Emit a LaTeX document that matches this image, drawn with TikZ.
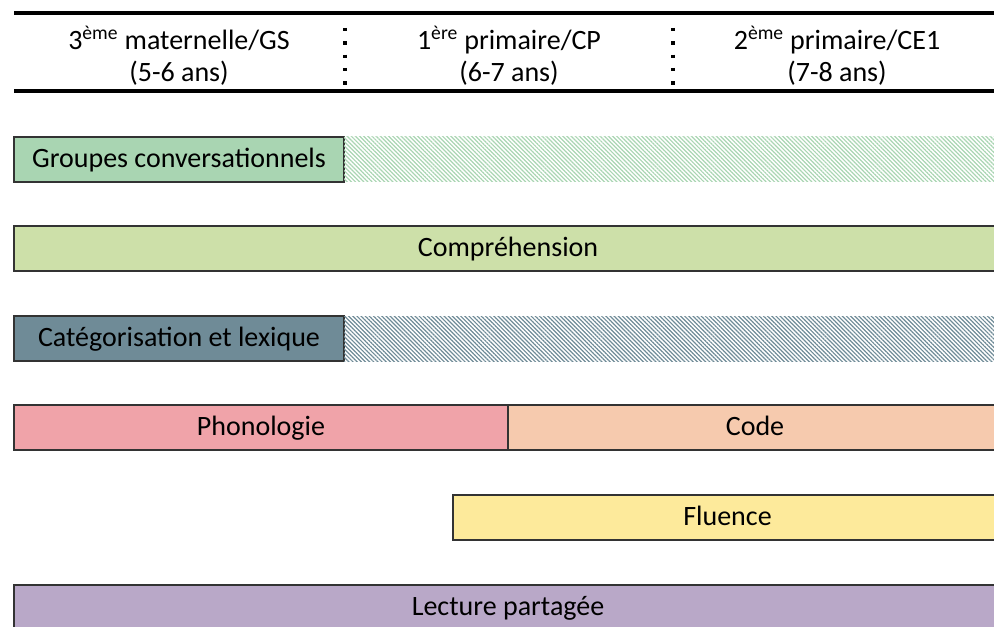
\documentclass[tikz,border=0pt]{standalone}
\usepackage{fontspec}
\setmainfont{Carlito}
\usetikzlibrary{positioning,patterns.meta}

\definecolor{grpgreen}{HTML}{A9D5B2}
\definecolor{compgreen}{HTML}{CDE0A9}
\definecolor{catblue}{HTML}{6F8B97}
\definecolor{phonored}{HTML}{F0A3A9}
\definecolor{codeorange}{HTML}{F6CAAE}
\definecolor{fluyellow}{HTML}{FDEA9B}
\definecolor{lectpurple}{HTML}{B9A8C8}

\begin{document}
\begin{tikzpicture}[x=0.75pt,y=-0.75pt,
    bar/.style={draw=black!80,line width=1.1pt,minimum height=33.75pt,inner sep=0pt,outer sep=0pt,
                text height=16pt,text depth=4pt,font=\fontsize{21}{25}\selectfont},
    hatchbar/.style={bar,draw=none,pattern={Lines[angle=-45,distance=2.2pt,line width=0.9pt]}},
    head/.style={align=center,font=\fontsize{21}{24}\selectfont},
    rule/.style={line width=3pt},
    sep/.style={line width=2.6pt,dash pattern=on 2.6pt off 7.4pt}]
  \path[use as bounding box] (0,0) rectangle (994,627);
  \clip (0,0) rectangle (994,627);

  % header
  \draw[rule] (14,13) -- (1010,13);
  \draw[rule] (14,91) -- (1010,91);
  \draw[sep] (345,28) -- (345,86);
  \draw[sep] (673,28) -- (673,86);
  \node[head] (gs) at (179,56) {3\textsuperscript{ème} maternelle/GS\\(5-6 ans)};
  \node[head] (cp) at (509,56) {1\textsuperscript{ère} primaire/CP\\(6-7 ans)};
  \node[head] (ce) at (837,56) {2\textsuperscript{ème} primaire/CE1\\(7-8 ans)};

  % bars
  \node[bar,fill=grpgreen,minimum width=247.5pt,anchor=west] (grp) at (14,159.5) {Groupes conversationnels};
  \node[hatchbar,pattern color=grpgreen,minimum width=495pt] (grpx) [right=0pt of grp] {};

  \node[bar,fill=compgreen,minimum width=741pt,anchor=west] (comp) at (14,248.5) {Compréhension};

  \node[bar,fill=catblue,minimum width=247.5pt,anchor=west] (cat) at (14,338.5) {Catégorisation et lexique};
  \node[hatchbar,pattern color=catblue,minimum width=495pt] (catx) [right=0pt of cat] {};

  \node[bar,fill=phonored,minimum width=370.5pt,anchor=west] (phono) at (14,427.5) {Phonologie};
  \node[bar,fill=codeorange,minimum width=370.5pt] (code) [right=0pt of phono] {Code};

  \node[bar,fill=fluyellow,minimum width=411.75pt,anchor=west] (flu) at (453,517.5) {Fluence};

  \node[bar,fill=lectpurple,minimum width=741pt,anchor=west] (lect) at (14,607.5) {Lecture partagée};
\end{tikzpicture}
\end{document}
